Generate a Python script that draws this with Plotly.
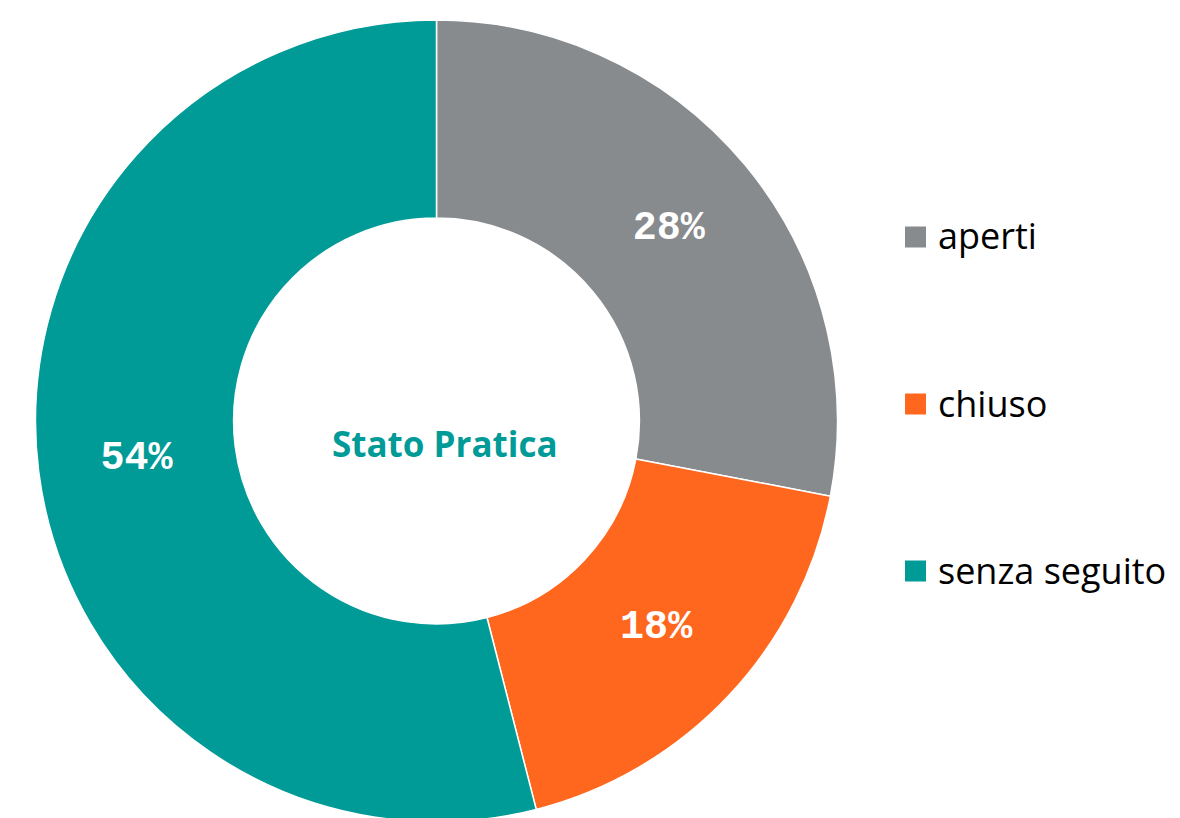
import plotly.graph_objects as go

labels = ["aperti", "chiuso", "senza seguito"]
values = [28, 18, 54]
colors = ["#888B8D", "#FF671F", "#009A97"]
center_title = "Stato Pratica"

W, H = 1180, 818
OFF = 8  # page body margin offset

def px_x(x):
    return (x - OFF) / W

def px_y(y):
    return (H - (y - OFF)) / H

fig = go.Figure()
fig.add_trace(go.Pie(
    labels=labels,
    values=values,
    hole=0.506,
    sort=False,
    direction="clockwise",
    rotation=0,
    marker=dict(colors=colors, line=dict(color="white", width=1.5)),
    texttemplate="%{percent:.0%}",
    textposition="inside",
    insidetextorientation="horizontal",
    textfont=dict(family="Liberation Mono", size=40, color="white", weight="bold"),
    domain=dict(x=[px_x(35), px_x(838)], y=[px_y(822), px_y(20)]),
    showlegend=False,
    hoverinfo="label+percent",
))

# center title
fig.add_annotation(
    x=px_x(445), y=px_y(443), xref="paper", yref="paper",
    text=center_title, showarrow=False,
    font=dict(family="Open Sans", size=35, color="#009A97", weight="bold"),
    xanchor="center", yanchor="middle",
)

# legend built from labels/colors
leg_y = [237, 404, 571]
for lab, col, yy in zip(labels, colors, leg_y):
    fig.add_shape(
        type="rect", xref="paper", yref="paper",
        x0=px_x(905), x1=px_x(926), y0=px_y(yy + 10.5), y1=px_y(yy - 10.5),
        fillcolor=col, line=dict(width=0),
    )
    fig.add_annotation(
        x=px_x(936), y=px_y(yy - 1), xref="paper", yref="paper",
        text=lab, showarrow=False, xanchor="left", yanchor="middle",
        font=dict(family="Open Sans", size=36, color="#000000"),
    )

fig.update_layout(
    width=W, height=H,
    margin=dict(l=0, r=0, t=0, b=0),
    paper_bgcolor="white", plot_bgcolor="white",
)

fig.write_html("out.html")
